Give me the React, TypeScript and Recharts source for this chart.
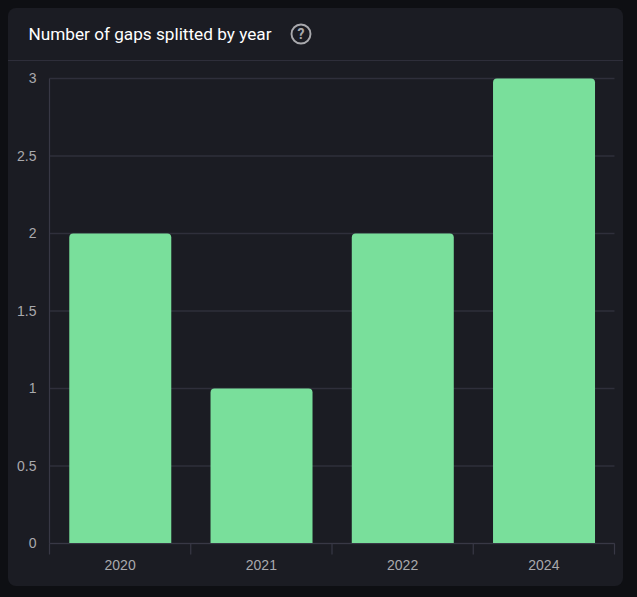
import React from "react";
import { BarChart, Bar, XAxis, YAxis, CartesianGrid } from "recharts";

const years = ["2020", "2021", "2022", "2024"];
const gapCounts = [2, 1, 2, 3];
const yTicks = [0, 0.5, 1, 1.5, 2, 2.5, 3];

const chartData = years.map((year, i) => ({ year, gaps: gapCounts[i] }));

const FONT = "Roboto, sans-serif";
const TICK_FONT = "'Liberation Sans', sans-serif";
const AXIS_COLOR = "#383845";
const GRID_COLOR = "#2f2f3b";
const LABEL_COLOR = "#a9a9ad";

// x ticks sit on the band edges, the label stays in the middle of the band.
// y already carries recharts' 8px tick offset, so the axis line is at y - 8
const YearTick = (props: any) => {
  const { x, y, payload, index } = props;
  const half = (565 / years.length) / 2;
  return (
    <g>
      {index === 0 && (
        <line x1={x - half} x2={x - half} y1={y - 8} y2={y + 3} stroke={AXIS_COLOR} strokeWidth={1.2} />
      )}
      <line x1={x + half} x2={x + half} y1={y - 8} y2={y + 3} stroke={AXIS_COLOR} strokeWidth={1.2} />
      <text
        x={x}
        y={y + 18}
        textAnchor="middle"
        fontSize={14}
        fontFamily={TICK_FONT}
        fill={LABEL_COLOR}
      >
        {payload.value}
      </text>
    </g>
  );
};

const App: React.FC = () => {
  return (
    <>
      <div style={{ position: "fixed", inset: 0, background: "#0e0f13" }} />
      <div
        style={{
          position: "relative",
          width: 615,
          height: 578,
          background: "#1b1c23",
          borderRadius: 8,
          fontFamily: FONT,
        }}
      >
        {/* header */}
        <div
          style={{
            position: "absolute",
            left: 20.5,
            top: 15,
            lineHeight: "22px",
            fontSize: 17.2,
            fontWeight: 400,
            color: "#ffffff",
            whiteSpace: "nowrap",
          }}
        >
          Number of gaps splitted by year
        </div>
        <svg
          width={24}
          height={24}
          style={{ position: "absolute", left: 281, top: 14 }}
        >
          <circle cx={12} cy={12} r={9.5} fill="none" stroke="#a9a9ad" strokeWidth={1.9} />
          <text
            x={12}
            y={17}
            textAnchor="middle"
            fontSize={14}
            fontWeight={700}
            fontFamily={FONT}
            fill="#a9a9ad"
          >
            ?
          </text>
        </svg>
        <div
          style={{
            position: "absolute",
            left: 0,
            right: 0,
            top: 52,
            height: 1,
            background: "#2e2e3a",
          }}
        />

        <div style={{ position: "absolute", left: 0, top: 0 }}>
          <BarChart
            width={615}
            height={578}
            data={chartData}
            margin={{ top: 70.5, right: 8.5, bottom: 0, left: 0 }}
            barCategoryGap="14%"
          >
            <CartesianGrid vertical={false} stroke={GRID_COLOR} strokeWidth={1.4} />
            <XAxis
              dataKey="year"
              height={42.5}
              axisLine={{ stroke: AXIS_COLOR, strokeWidth: 1.2 }}
              tickLine={false}
              interval={0}
              tick={<YearTick />}
            />
            <YAxis
              width={41.5}
              domain={[0, 3]}
              ticks={yTicks}
              axisLine={{ stroke: AXIS_COLOR, strokeWidth: 1.2 }}
              tickLine={false}
              tickMargin={7}
              tick={{ fill: LABEL_COLOR, fontSize: 14, fontFamily: TICK_FONT }}
            />
            <Bar
              dataKey="gaps"
              fill="#79df9b"
              radius={[4, 4, 0, 0]}
              isAnimationActive={false}
            />
          </BarChart>
        </div>
      </div>
    </>
  );
};

export default App;
